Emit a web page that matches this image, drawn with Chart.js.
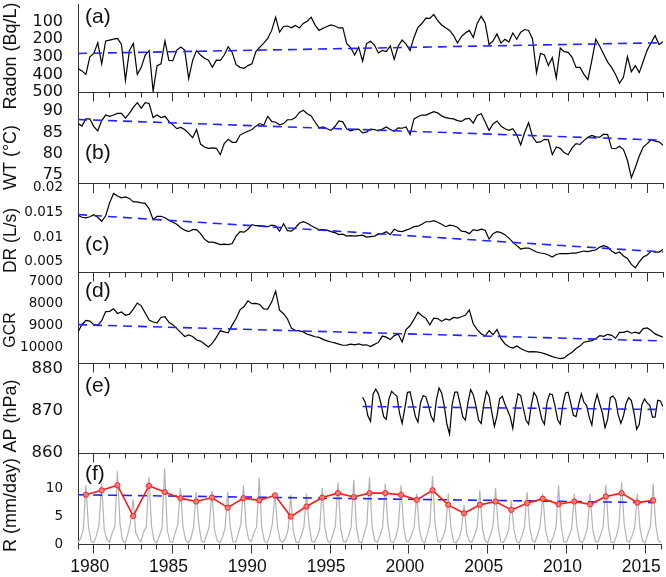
<!DOCTYPE html>
<html>
<head>
<meta charset="utf-8">
<script src="https://cdn.jsdelivr.net/npm/chart.js@4.4.1/dist/chart.umd.min.js"></script>
<style>
  body { margin: 0; background: #fff; }
  #wrap { position: relative; width: 666px; height: 577px; }
  #wrap canvas { position: absolute; left: 0; top: 0; }
</style>
</head>
<body>
<div id="wrap">
  <canvas id="panelA" width="666" height="577"></canvas>
  <canvas id="panelB" width="666" height="577"></canvas>
  <canvas id="panelC" width="666" height="577"></canvas>
  <canvas id="panelD" width="666" height="577"></canvas>
  <canvas id="panelE" width="666" height="577"></canvas>
  <canvas id="panelF" width="666" height="577"></canvas>
</div>
<script>
// Quarterly series, 1979.0 to 2016.0
const radon = [
  367, 380, 400, 300, 281, 220, 340, 210, 205, 200,
  195, 230, 433, 265, 224, 400, 360, 290, 265, 495,
  350, 340, 210, 320, 322, 262, 245, 262, 424, 320,
  265, 290, 308, 319, 360, 319, 320, 290, 243, 275,
  345, 360, 365, 350, 340, 270, 245, 222, 195, 150,
  75, 160, 128, 125, 135, 122, 136, 110, 98, 75,
  120, 150, 138, 128, 119, 125, 136, 135, 225, 248,
  290, 245, 325, 225, 212, 233, 278, 264, 270, 238,
  315, 240, 205, 228, 265, 190, 133, 111, 80, 82,
  60, 95, 119, 135, 150, 178, 222, 185, 165, 150,
  190, 110, 70, 108, 230, 210, 170, 222, 200, 216,
  165, 200, 160, 145, 150, 200, 390, 280, 290, 350,
  305, 420, 250, 271, 275, 303, 360, 360, 400, 430,
  320, 200, 240, 285, 330, 360, 400, 450, 415, 300,
  385, 350, 390, 325, 262, 220, 180, 230, 214
];
const waterTemp = [
  87.1, 86.5, 88.2, 88.2, 86.4, 85.4, 87.8, 89.1, 88.8, 89.1,
  89.5, 89.5, 88.4, 89.5, 90.9, 92.0, 90.7, 92.0, 91.8, 88.5,
  89.1, 88.5, 88.8, 87.6, 86.8, 85.9, 86.2, 85.7, 84.8, 83.8,
  85.7, 82.3, 81.6, 81.3, 81.4, 81.3, 79.8, 82.4, 83.4, 82.7,
  82.7, 84.4, 84.9, 85.3, 85.7, 86.5, 87.1, 86.7, 88.8, 87.6,
  87.4, 86.8, 87.1, 88.0, 88.0, 88.5, 89.7, 90.2, 89.4, 88.9,
  87.4, 86.1, 86.3, 85.9, 85.5, 86.4, 87.7, 87.5, 85.8, 85.4,
  85.7, 85.8, 84.9, 85.1, 85.8, 85.7, 85.4, 85.8, 86.3, 85.7,
  85.3, 86.1, 86.0, 86.3, 84.5, 88.2, 88.7, 89.1, 89.1, 89.5,
  89.9, 89.6, 88.9, 88.5, 88.3, 88.2, 87.8, 87.6, 88.2, 88.3,
  87.2, 89.0, 89.4, 87.5, 85.5, 87.0, 87.7, 86.5, 85.9, 85.5,
  85.9, 84.5, 82.1, 85.0, 87.3, 84.0, 82.7, 82.8, 83.4, 83.3,
  79.8, 81.6, 81.3, 80.3, 79.8, 81.4, 82.4, 82.2, 83.1, 83.9,
  84.3, 84.0, 83.9, 84.6, 84.5, 81.3, 81.2, 81.8, 81.0, 78.5,
  74.4, 76.8, 79.5, 81.6, 82.4, 83.3, 83.0, 82.8, 82.0
];
const discharge = [
  0.0144, 0.0140, 0.0139, 0.0141, 0.0145, 0.0140, 0.0132, 0.0143, 0.0169, 0.0188,
  0.0183, 0.0179, 0.0181, 0.0178, 0.0171, 0.0171, 0.0169, 0.0168, 0.0157, 0.0135,
  0.0142, 0.0142, 0.0139, 0.0134, 0.0130, 0.0126, 0.0119, 0.0114, 0.0111, 0.0115,
  0.0115, 0.0107, 0.0096, 0.0090, 0.0090, 0.0088, 0.0085, 0.0086, 0.0085, 0.0087,
  0.0102, 0.0111, 0.0110, 0.0116, 0.0125, 0.0123, 0.0123, 0.0122, 0.0121, 0.0124,
  0.0123, 0.0112, 0.0127, 0.0113, 0.0112, 0.0119, 0.0128, 0.0131, 0.0128, 0.0123,
  0.0119, 0.0115, 0.0115, 0.0114, 0.0111, 0.0109, 0.0105, 0.0106, 0.0102, 0.0103,
  0.0102, 0.0103, 0.0104, 0.0100, 0.0101, 0.0102, 0.0106, 0.0107, 0.0111, 0.0105,
  0.0116, 0.0112, 0.0111, 0.0114, 0.0117, 0.0121, 0.0122, 0.0126, 0.0131, 0.0131,
  0.0133, 0.0130, 0.0126, 0.0121, 0.0124, 0.0123, 0.0120, 0.0112, 0.0111, 0.0107,
  0.0115, 0.0113, 0.0116, 0.0114, 0.0096, 0.0107, 0.0111, 0.0109, 0.0105, 0.0098,
  0.0090, 0.0083, 0.0076, 0.0078, 0.0078, 0.0074, 0.0070, 0.0068, 0.0067, 0.0064,
  0.0060, 0.0065, 0.0067, 0.0067, 0.0067, 0.0068, 0.0068, 0.0070, 0.0072, 0.0071,
  0.0073, 0.0074, 0.0080, 0.0083, 0.0080, 0.0072, 0.0067, 0.0070, 0.0062, 0.0057,
  0.0045, 0.0038, 0.0050, 0.0060, 0.0064, 0.0072, 0.0070, 0.0070, 0.0075
];
const cosmicRays = [
  9313, 8970, 8790, 8820, 8980, 9000, 8800, 8380, 8370, 8250,
  8470, 8400, 8550, 8500, 8270, 7990, 8120, 8450, 8770, 8860,
  8900, 8650, 8610, 8870, 8980, 9160, 9340, 9520, 9450, 9520,
  9680, 9730, 9860, 10000, 9820, 9560, 9260, 9310, 9350, 9000,
  8700, 8300, 8150, 7890, 8020, 8010, 8060, 8260, 8270, 7950,
  7450, 8320, 8480, 8720, 9140, 9240, 9260, 9310, 9420, 9470,
  9530, 9560, 9650, 9720, 9770, 9810, 9870, 9920, 9910, 9870,
  9905, 9860, 9915, 9900, 9980, 9880, 9790, 9500, 9550, 9660,
  9480, 9410, 9770, 9200, 9030, 8740, 8410, 8570, 8690, 8990,
  8680, 8700, 8830, 8720, 8770, 8650, 8680, 8620, 8550, 8300,
  8950, 9210, 9390, 9500, 9250, 9440, 9200, 9620, 9850, 9990,
  10050, 9950, 10070, 10160, 10220, 10210, 10220, 10250, 10305, 10370,
  10440, 10490, 10533, 10500, 10350, 10240, 10070, 9960, 9780, 9740,
  9710, 9620, 9480, 9510, 9420, 9466, 9600, 9330, 9330, 9280,
  9370, 9320, 9380, 9160, 9130, 9250, 9400, 9480, 9550
];

// Bi-monthly air pressure, 1997.0 to 2016.0
const airPressure = [
  873.2, 872.0, 868.8, 867.5, 874.0, 875.1,
  874.0, 871.6, 868.6, 868.0, 872.8, 874.6,
  874.0, 873.5, 869.5, 867.0, 870.5, 874.3,
  874.5, 871.6, 868.7, 867.3, 871.9, 873.6,
  873.3, 871.2, 868.7, 867.5, 872.5, 875.4,
  874.2, 871.1, 866.8, 864.5, 871.5, 874.4,
  874.4, 871.6, 868.6, 867.8, 872.0, 875.0,
  873.8, 871.2, 867.8, 867.0, 871.5, 874.6,
  873.5, 869.8, 866.3, 868.8, 872.8, 873.4,
  871.6, 870.1, 868.6, 865.8, 870.8, 874.0,
  873.6, 870.6, 867.8, 866.8, 871.2, 874.3,
  873.4, 870.8, 868.0, 866.8, 872.0, 874.0,
  873.8, 871.2, 867.9, 866.8, 871.4, 874.2,
  874.4, 871.8, 868.9, 868.6, 871.5, 874.0,
  872.0, 871.3, 868.5, 866.6, 871.5, 873.9,
  871.6, 869.5, 866.0, 868.0, 873.1, 873.5,
  872.6, 869.0, 867.0, 868.8, 871.8, 873.1,
  872.4, 869.5, 865.6, 866.8, 871.5, 872.8,
  871.8, 871.3, 868.5, 868.5, 872.5, 872.3,
  871.0
];

// Bi-monthly rainfall, 1979.0 to 2016.0
const rainfall = [
  0.3, 1.0, 2.5, 10.5, 3.0, 0.5,
  0.2, 1.5, 3.5, 10.8, 2.5, 0.8,
  0.3, 2.0, 3.0, 13.0, 3.5, 0.6,
  0.2, 1.8, 3.8, 8.0, 2.0, 1.0,
  0.4, 2.2, 3.0, 12.0, 3.2, 0.6,
  0.2, 1.5, 2.8, 13.5, 2.5, 0.4,
  0.3, 2.0, 3.5, 10.0, 3.0, 0.7,
  0.2, 1.0, 3.0, 9.3, 3.5, 0.5,
  0.3, 1.6, 3.2, 9.5, 2.5, 0.6,
  0.2, 1.2, 2.8, 9.3, 3.0, 0.4,
  0.3, 1.8, 3.5, 10.5, 3.2, 0.8,
  0.4, 2.0, 3.0, 11.8, 2.8, 0.5,
  0.2, 1.4, 3.6, 9.0, 3.0, 0.6,
  0.3, 1.0, 2.5, 8.8, 2.2, 0.4,
  0.2, 1.5, 3.0, 9.0, 3.4, 0.5,
  0.3, 1.2, 2.6, 10.0, 3.0, 0.6,
  0.2, 1.6, 3.2, 11.0, 2.8, 0.5,
  0.3, 1.4, 3.0, 11.5, 3.2, 0.4,
  0.2, 1.8, 3.5, 12.0, 3.0, 0.6,
  0.3, 1.5, 3.0, 10.8, 3.5, 0.5,
  0.2, 1.2, 3.2, 10.5, 3.0, 0.5,
  0.4, 1.6, 3.0, 9.0, 2.5, 0.6,
  0.2, 1.8, 3.6, 12.1, 3.5, 0.5,
  0.3, 1.2, 2.8, 9.0, 3.0, 0.4,
  0.2, 1.0, 2.5, 7.0, 2.0, 0.5,
  0.3, 1.5, 3.0, 9.6, 2.8, 0.6,
  0.2, 1.6, 3.2, 10.0, 3.0, 0.4,
  0.3, 1.2, 2.6, 7.8, 2.5, 0.5,
  0.2, 1.4, 3.0, 9.3, 3.0, 0.6,
  0.3, 1.6, 3.4, 9.0, 2.6, 0.5,
  0.2, 1.3, 3.0, 10.5, 3.2, 0.4,
  0.3, 1.5, 2.8, 9.0, 3.0, 0.6,
  0.2, 1.2, 3.0, 9.0, 2.6, 0.5,
  0.3, 1.6, 3.2, 10.6, 3.0, 0.4,
  0.2, 1.4, 3.4, 11.0, 3.5, 0.6,
  0.3, 1.5, 3.0, 9.0, 2.8, 0.5,
  0.2, 1.8, 3.2, 10.8, 3.4, 0.6,
  0.3
];

// Annual values (red), 1979.5 to 2015.5
const rainAnnual = [
  8.8, 9.6, 10.5, 5.0, 10.4, 9.3, 8.2, 7.6, 8.3, 6.5,
  8.2, 7.8, 8.7, 4.9, 6.7, 8.3, 9.1, 8.4, 9.1, 9.1,
  8.8, 7.9, 9.6, 7.0, 5.5, 7.0, 7.6, 6.1, 7.3, 8.1,
  7.1, 7.6, 7.1, 8.5, 9.1, 7.4, 7.8
];

// Linear trends: [start value, end value] over [start year, end year]
const radonTrend = [281, 220];
const waterTempTrend = [88.05, 83.2];
const dischargeTrend = [0.01455, 0.0070];
const cosmicTrend = [8980, 9725];
const pressureTrend = [871.0, 870.3];
const rainTrend = [8.8, 7.4];

const yearTicks = [];
for (let y = 1979; y <= 2016; y++) yearTicks.push(y);

function timeGrid(start, step, n) {
  const out = [];
  for (let i = 0; i < n; i++) out.push(start + i * step);
  return out;
}
function pairs(xs, ys) {
  return ys.map((v, i) => ({x: xs[i], y: v}));
}

const quarterX = timeGrid(1979, 0.25, radon.length);
const pressureX = timeGrid(1997, 1 / 6, airPressure.length);
const rainX = timeGrid(1979, 1 / 6, rainfall.length);
const annualX = timeGrid(1979.5, 1, rainAnnual.length);

const TEXT = '"Liberation Sans", Arial, sans-serif';

const panelText = {
  id: 'panelText',
  afterDraw(chart, args, opts) {
    const ctx = chart.ctx;
    ctx.save();
    ctx.fillStyle = '#111';
    ctx.textBaseline = 'middle';
    ctx.textAlign = 'left';
    ctx.font = '21px ' + TEXT;
    ctx.fillText(opts.tag, 85, opts.tagY);
    ctx.translate(11, opts.titleY);
    ctx.rotate(-Math.PI / 2);
    ctx.textAlign = 'center';
    ctx.font = opts.titleSize + 'px ' + TEXT;
    ctx.fillText(opts.title, 0, 0);
    ctx.restore();
  }
};

function blackLine(data) {
  return {data: data, borderColor: '#000', borderWidth: 1.2, pointRadius: 0, tension: 0};
}
function trendLine(x0, x1, vals) {
  return {
    data: [{x: x0, y: vals[0]}, {x: x1, y: vals[1]}],
    borderColor: '#2424ff', borderWidth: 1.6, borderDash: [9, 6], pointRadius: 0
  };
}

function makePanel(id, p, datasets) {
  const axisH = p.bottomAxis ? 33 : 12;
  new Chart(document.getElementById(id), {
    type: 'line',
    data: {datasets: datasets},
    plugins: [panelText],
    options: {
      responsive: false,
      animation: false,
      devicePixelRatio: 1,
      events: [],
      layout: {padding: {top: p.top, bottom: 577 - p.bottom - axisH, left: 0, right: 3}},
      plugins: {
        legend: {display: false},
        tooltip: {enabled: false},
        panelText: {tag: p.tag, tagY: p.tagY, title: p.title, titleY: p.titleY, titleSize: p.titleSize}
      },
      scales: {
        x: {
          type: 'linear', min: 1979, max: 2016,
          afterBuildTicks: s => { s.ticks = yearTicks.map(v => ({value: v})); },
          afterFit: s => { s.height = axisH; s.paddingLeft = 0; s.paddingRight = 0; },
          ticks: {
            display: !!p.bottomAxis, autoSkip: false, maxRotation: 0, minRotation: 0,
            padding: 3, labelOffset: -4, color: '#111',
            font: {family: TEXT, size: 17.5},
            callback: v => (v % 5 === 0 ? String(v) : '')
          },
          grid: {
            drawOnChartArea: false, drawTicks: true, tickLength: 9.5,
            tickColor: '#333', tickWidth: 1,
            tickBorderDash: c => (c.tick && c.tick.value % 5 === 0 ? [] : [4.5, 40])
          },
          border: {color: '#333', width: 1}
        },
        y: {
          type: 'linear', min: p.min, max: p.max, reverse: !!p.reverse,
          afterBuildTicks: s => { s.ticks = p.ticks.map(v => ({value: v})); },
          afterFit: s => { s.width = 78; s.paddingTop = 0; s.paddingBottom = 0; },
          ticks: {
            padding: 7, color: '#111', autoSkip: false,
            font: {family: '"DejaVu Sans", sans-serif', size: p.fontSize},
            callback: v => String(v)
          },
          grid: {display: false},
          border: {color: '#333', width: 1}
        }
      }
    }
  });
}

makePanel('panelA', {top: 4, bottom: 92, min: 0, max: 500, reverse: true,
  ticks: [100, 200, 300, 400, 500], fontSize: 16,
  tag: '(a)', tagY: 17.5, title: 'Radon (Bq/L)', titleY: 56, titleSize: 18},
  [trendLine(1979, 2016, radonTrend), blackLine(pairs(quarterX, radon))]);

makePanel('panelB', {top: 92, bottom: 183.5, min: 73.05, max: 94.5,
  ticks: [75, 80, 85, 90], fontSize: 16,
  tag: '(b)', tagY: 153, title: 'WT (\u00B0C)', titleY: 157.5, titleSize: 18},
  [trendLine(1979, 2016, waterTempTrend), blackLine(pairs(quarterX, waterTemp))]);

makePanel('panelC', {top: 183.5, bottom: 272, min: 0.00298, max: 0.0208,
  ticks: [0.005, 0.01, 0.015, 0.02], fontSize: 13.5,
  tag: '(c)', tagY: 245, title: 'DR (L/s)', titleY: 240.5, titleSize: 17.5},
  [trendLine(1979, 2016, dischargeTrend), blackLine(pairs(quarterX, discharge))]);

makePanel('panelD', {top: 272, bottom: 363, min: 6575, max: 10730, reverse: true,
  ticks: [7000, 8000, 9000, 10000], fontSize: 13.5,
  tag: '(d)', tagY: 291, title: 'GCR', titleY: 330, titleSize: 16},
  [trendLine(1979, 2016, cosmicTrend), blackLine(pairs(quarterX, cosmicRays))]);

makePanel('panelE', {top: 363, bottom: 453, min: 860, max: 881.3,
  ticks: [860, 870, 880], fontSize: 16.5,
  tag: '(e)', tagY: 386, title: 'AP (hPa)', titleY: 416, titleSize: 18},
  [trendLine(1997, 2016, pressureTrend), blackLine(pairs(pressureX, airPressure))]);

makePanel('panelF', {top: 459, bottom: 544, min: 0, max: 15.2, bottomAxis: true,
  ticks: [0, 5, 10], fontSize: 13.5,
  tag: '(f)', tagY: 474, title: 'R (mm/day)', titleY: 505, titleSize: 18},
  [
    {data: pairs(annualX, rainAnnual), borderColor: '#ff1a1a', borderWidth: 1.6,
     pointRadius: 2.6, pointBackgroundColor: 'rgba(255,130,130,0.9)',
     pointBorderColor: '#ff1a1a', pointBorderWidth: 1, tension: 0},
    trendLine(1979, 2015.5, rainTrend),
    {data: pairs(rainX, rainfall), borderColor: '#b4b4b4', borderWidth: 1.2, pointRadius: 0, tension: 0}
  ]);
</script>
</body>
</html>
